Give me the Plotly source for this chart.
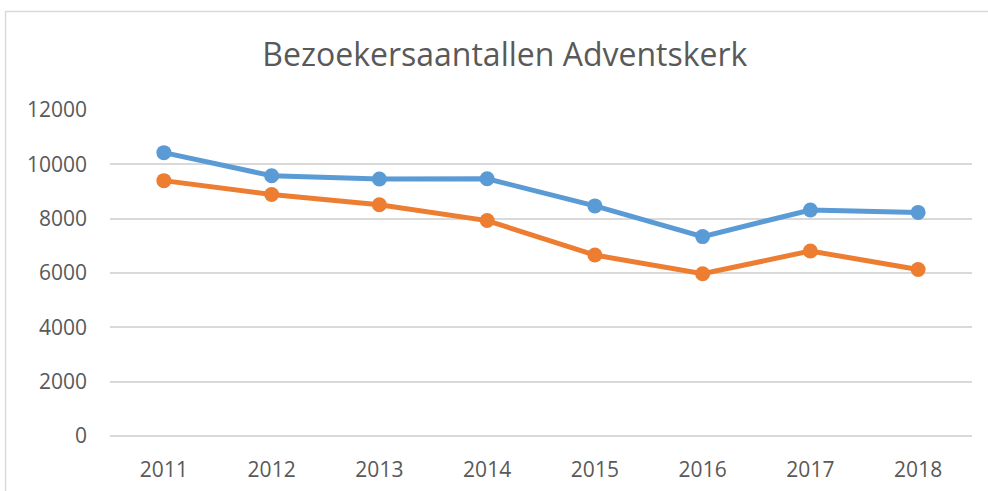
import plotly.graph_objects as go

years = ["2011", "2012", "2013", "2014", "2015", "2016", "2017", "2018"]
series_blue = [10430, 9580, 9460, 9470, 8470, 7340, 8320, 8230]
series_orange = [9400, 8890, 8510, 7930, 6660, 5970, 6810, 6130]
y_ticks = [0, 2000, 4000, 6000, 8000, 10000, 12000]
y_tick_labels = ["0", "2000", "4000", "6000", "8000", "10000", "12000"]

fig = go.Figure()
fig.add_trace(go.Scatter(x=years, y=series_blue, mode="lines+markers",
                         line=dict(color="#5B9BD5", width=5),
                         marker=dict(color="#5B9BD5", size=15)))
fig.add_trace(go.Scatter(x=years, y=series_orange, mode="lines+markers",
                         line=dict(color="#ED7D31", width=5),
                         marker=dict(color="#ED7D31", size=15)))

fig.update_layout(
    width=988, height=491,
    margin=dict(l=110, r=16, t=110, b=55, autoexpand=False),
    paper_bgcolor="white", plot_bgcolor="white",
    showlegend=False,
    title=dict(text="Bezoekersaantallen Adventskerk",
               font=dict(family="Open Sans", size=32, color="#595959"),
               x=0.511, xref="container", xanchor="center",
               y=1 - 55 / 491, yref="container", yanchor="middle"),
    font=dict(family="Open Sans", size=21, color="#595959"),
)
fig.update_xaxes(type="category", range=[-0.5, 7.5], showgrid=False,
                 showline=False, zeroline=False, ticks="", ticklabelstandoff=19,
                 automargin=False,
                 tickfont=dict(family="Open Sans", size=21, color="#595959"))
fig.update_yaxes(range=[0, 12000], tickvals=y_ticks, ticktext=y_tick_labels,
                 showgrid=True, automargin=False,
                 gridcolor="#d9d9d9", gridwidth=1.5,
                 zeroline=True, zerolinecolor="#d9d9d9", zerolinewidth=1.5,
                 showline=False, ticks="", ticklabelstandoff=22,
                 tickfont=dict(family="Open Sans", size=21, color="#595959"))

# chart frame (Excel chart border)
fig.add_shape(type="rect", xref="paper", yref="paper",
              x0=-0.1212, x1=1.2, y0=-0.4, y1=1.302,
              line=dict(color="#d9d9d9", width=1.5), layer="below")

fig.write_html("out.html", config={"displayModeBar": False},
               post_script="document.body.style.margin='0';document.body.style.overflow='hidden';")
